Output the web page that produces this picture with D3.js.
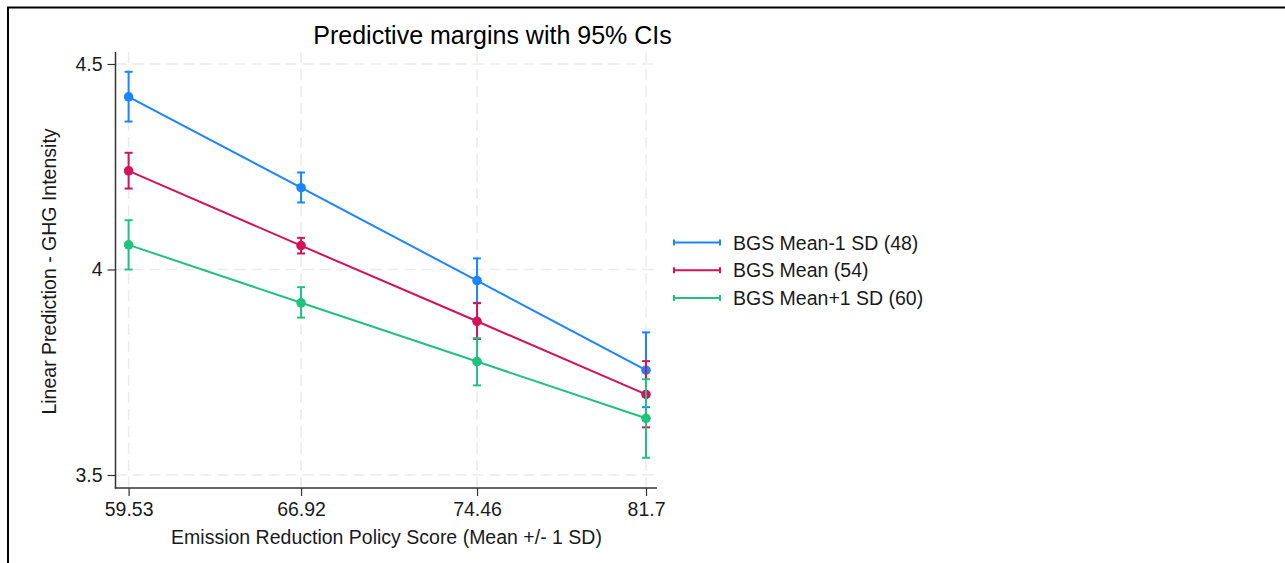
<!DOCTYPE html>
<html>
<head>
<meta charset="utf-8">
<script src="https://cdn.jsdelivr.net/npm/d3@7"></script>
<style>
  html, body { margin: 0; padding: 0; background: #fff; }
  svg { display: block; font-family: "Liberation Sans", Arial, sans-serif; }
</style>
</head>
<body>
<div id="chart"></div>
<script>
// --- data ---
const xTicks = [59.53, 66.92, 74.46, 81.7];
const xTickLabels = ["59.53", "66.92", "74.46", "81.7"];
const yTicks = [3.5, 4, 4.5];
const yTickLabels = ["3.5", "4", "4.5"];

const seriesNames = ["BGS Mean-1 SD (48)", "BGS Mean (54)", "BGS Mean+1 SD (60)"];
const seriesColors = ["#1a85ff", "#d41159", "#1fc27f"];

const lowMean = [4.420, 4.199, 3.973, 3.755];
const lowLo   = [4.360, 4.163, 3.919, 3.665];
const lowHi   = [4.481, 4.236, 4.027, 3.847];

const midMean = [4.240, 4.058, 3.874, 3.696];
const midLo   = [4.197, 4.039, 3.831, 3.616];
const midHi   = [4.284, 4.077, 3.918, 3.777];

const highMean = [4.060, 3.919, 3.776, 3.638];
const highLo   = [4.000, 3.883, 3.718, 3.542];
const highHi   = [4.120, 3.957, 3.833, 3.733];

const titleText = "Predictive margins with 95% CIs";
const xTitle = "Emission Reduction Policy Score (Mean +/- 1 SD)";
const yTitle = "Linear Prediction - GHG Intensity";

(function () {
  const W = 1285, H = 563;
  const GRID = "#ebebeb";
  const AXIS = "#333333";
  const FS = "19.5px";

  const series = [
    { name: seriesNames[0], color: seriesColors[0], mean: lowMean, lo: lowLo, hi: lowHi },
    { name: seriesNames[1], color: seriesColors[1], mean: midMean, lo: midLo, hi: midHi },
    { name: seriesNames[2], color: seriesColors[2], mean: highMean, lo: highLo, hi: highHi },
  ];

  // plot region
  const plot = { left: 115.5, right: 657, top: 52, bottom: 488 };

  const x = d3.scaleLinear().domain([59.53, 81.7]).range([128.6, 646]);
  const y = d3.scaleLinear().domain([3.5, 4.5]).range([475, 64]);

  const svg = d3.select("#chart").append("svg")
    .attr("width", W).attr("height", H)
    .attr("viewBox", `0 0 ${W} ${H}`);

  svg.append("rect").attr("width", W).attr("height", H).attr("fill", "#fff");

  // outer frame (top + left only, as in the picture)
  svg.append("line").attr("x1", 7).attr("x2", W).attr("y1", 7.5).attr("y2", 7.5)
    .attr("stroke", "#000").attr("stroke-width", 2);
  svg.append("line").attr("x1", 8).attr("x2", 8).attr("y1", 7).attr("y2", H)
    .attr("stroke", "#000").attr("stroke-width", 2);

  // --- gridlines ---
  const grid = svg.append("g").attr("stroke", GRID).attr("stroke-width", 1.5)
    .attr("stroke-dasharray", "11,6");
  grid.selectAll("line.v").data(xTicks).enter().append("line")
    .attr("x1", d => x(d)).attr("x2", d => x(d))
    .attr("y1", plot.top).attr("y2", plot.bottom);
  grid.selectAll("line.h").data(yTicks).enter().append("line")
    .attr("x1", plot.left).attr("x2", plot.right)
    .attr("y1", d => y(d)).attr("y2", d => y(d));

  // --- axes ---
  const yAxis = d3.axisLeft(y).tickValues(yTicks)
    .tickFormat((d, i) => yTickLabels[i]).tickSize(8).tickPadding(5);
  const gy = svg.append("g").attr("transform", `translate(${plot.left},0)`).call(yAxis);
  gy.select(".domain").remove();
  gy.append("line").attr("x1", 0).attr("x2", 0).attr("y1", plot.top).attr("y2", plot.bottom + 0.5)
    .attr("stroke", AXIS).attr("stroke-width", 1.5);

  const xAxis = d3.axisBottom(x).tickValues(xTicks)
    .tickFormat((d, i) => xTickLabels[i]).tickSize(8).tickPadding(6);
  const gx = svg.append("g").attr("transform", `translate(0,${plot.bottom})`).call(xAxis);
  gx.select(".domain").remove();
  gx.append("line").attr("x1", plot.left - 0.75).attr("x2", plot.right).attr("y1", 0).attr("y2", 0)
    .attr("stroke", AXIS).attr("stroke-width", 1.5);

  [gx, gy].forEach(g => {
    g.selectAll(".tick line").attr("stroke", AXIS).attr("stroke-width", 1.2);
    g.selectAll(".tick text").attr("fill", "#1a1a1a").style("font-size", FS)
      .style("font-family", "'Liberation Sans', Arial, sans-serif");
  });

  // --- titles ---
  svg.append("text").attr("x", 492.5).attr("y", 43.5).attr("text-anchor", "middle")
    .attr("fill", "#000").style("font-size", "25px").text(titleText);
  svg.append("text").attr("x", 386.5).attr("y", 543.5).attr("text-anchor", "middle")
    .attr("fill", "#1a1a1a").style("font-size", FS).text(xTitle);
  svg.append("text").attr("transform", "translate(56,271.5) rotate(-90)")
    .attr("text-anchor", "middle").attr("fill", "#1a1a1a").style("font-size", FS).text(yTitle);

  // --- series: lines, CIs, markers ---
  const line = d3.line().x((d, i) => x(xTicks[i])).y(d => y(d));
  const capW = 4;

  series.forEach(s => {
    const g = svg.append("g");
    g.append("path").attr("d", line(s.mean)).attr("fill", "none")
      .attr("stroke", s.color).attr("stroke-width", 2);

    const ci = g.selectAll("g.ci").data(s.mean.map((m, i) => i)).enter().append("g")
      .attr("stroke", s.color).attr("stroke-width", 2);
    ci.append("line").attr("x1", i => x(xTicks[i])).attr("x2", i => x(xTicks[i]))
      .attr("y1", i => y(s.lo[i])).attr("y2", i => y(s.hi[i]));
    ci.append("line").attr("x1", i => x(xTicks[i]) - capW).attr("x2", i => x(xTicks[i]) + capW)
      .attr("y1", i => y(s.lo[i])).attr("y2", i => y(s.lo[i]));
    ci.append("line").attr("x1", i => x(xTicks[i]) - capW).attr("x2", i => x(xTicks[i]) + capW)
      .attr("y1", i => y(s.hi[i])).attr("y2", i => y(s.hi[i]));

    g.selectAll("circle").data(s.mean).enter().append("circle")
      .attr("cx", (d, i) => x(xTicks[i])).attr("cy", d => y(d))
      .attr("r", 4.8).attr("fill", s.color);
  });

  // --- legend ---
  const legend = svg.append("g").attr("transform", "translate(673,242.5)");
  const rows = legend.selectAll("g").data(series).enter().append("g")
    .attr("transform", (d, i) => `translate(0,${i * 27.8})`);
  rows.append("line").attr("x1", 0).attr("x2", 48).attr("y1", 0).attr("y2", 0)
    .attr("stroke", d => d.color).attr("stroke-width", 2);
  rows.append("line").attr("x1", 1).attr("x2", 1).attr("y1", -3).attr("y2", 3)
    .attr("stroke", d => d.color).attr("stroke-width", 2);
  rows.append("line").attr("x1", 47).attr("x2", 47).attr("y1", -3).attr("y2", 3)
    .attr("stroke", d => d.color).attr("stroke-width", 2);
  rows.append("text").attr("x", 60).attr("y", 7).attr("fill", "#1a1a1a")
    .style("font-size", FS).text(d => d.name);
})();
</script>
</body>
</html>
